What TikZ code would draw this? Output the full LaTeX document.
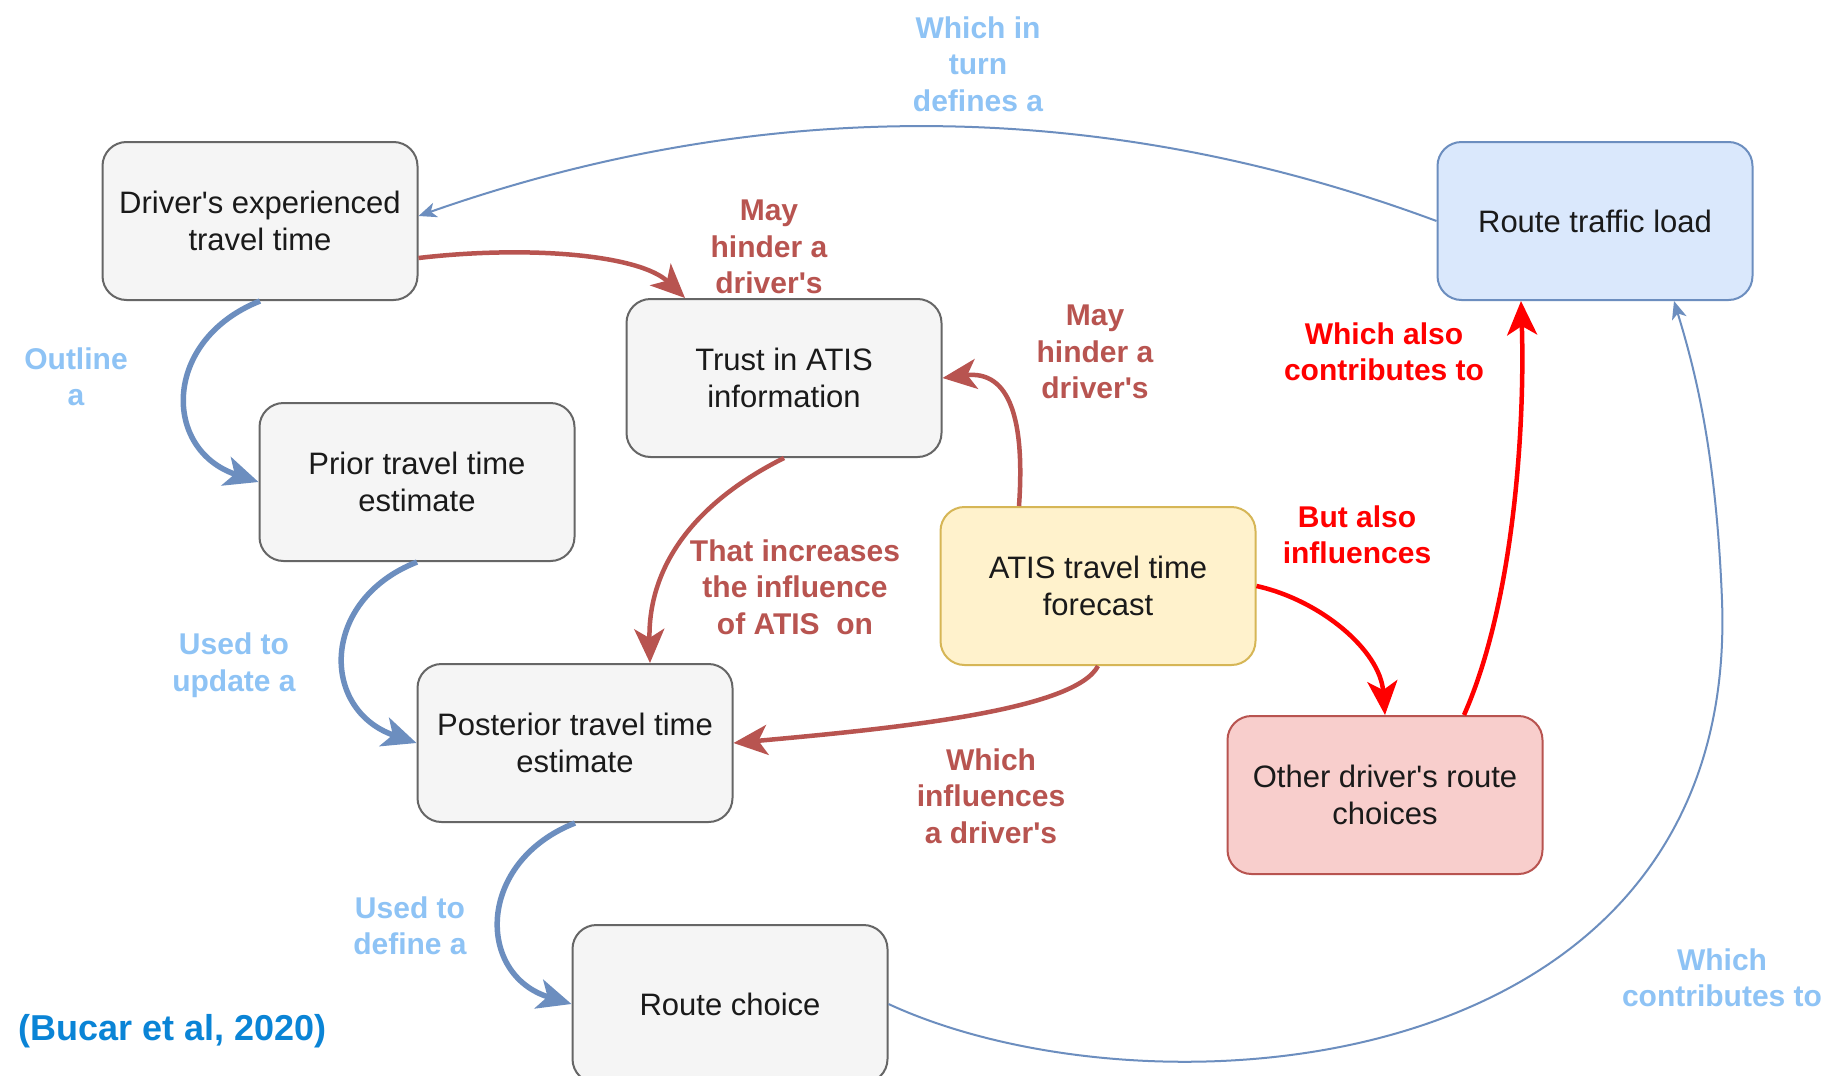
\documentclass[tikz,border=0pt]{standalone}
\usepackage{fontspec}
\setmainfont{Liberation Sans}
\newfontfamily\lsans{Liberation Sans}
\usetikzlibrary{arrows.meta}
\definecolor{gfill}{HTML}{F5F5F5}
\definecolor{gline}{HTML}{666666}
\definecolor{bfill}{HTML}{DAE8FC}
\definecolor{bline}{HTML}{6C8EBF}
\definecolor{yfill}{HTML}{FFF2CC}
\definecolor{yline}{HTML}{D6B656}
\definecolor{rfill}{HTML}{F8CECC}
\definecolor{rline}{HTML}{B85450}
\definecolor{brred}{HTML}{FF0000}
\definecolor{lblue}{HTML}{8EC3F5}
\definecolor{citeblue}{HTML}{0A84D6}
\definecolor{txt}{HTML}{1A1A1A}
\begin{document}
\begin{tikzpicture}[x=1pt,y=-1pt,
  box/.style={draw, rounded corners=24pt, line width=2pt, minimum width=315pt,
    minimum height=158pt, align=center, text=txt, inner sep=4pt,
    font=\lsans\fontsize{31}{37}\selectfont},
  gbox/.style={box, draw=gline, fill=gfill},
  bbox/.style={box, draw=bline, fill=bfill},
  ybox/.style={box, draw=yline, fill=yfill},
  rbox/.style={box, draw=rline, fill=rfill},
  lbl/.style={align=center, inner sep=0pt, font=\lsans\bfseries\fontsize{30}{36.5}\selectfont},
  bluelbl/.style={lbl, text=lblue},
  redlbl/.style={lbl, text=rline},
  brlbl/.style={lbl, text=brred},
  thickblue/.style={draw=bline, line width=5.5pt, -{Stealth[length=34pt,width=30pt,inset=9pt]}},
  thickred/.style={draw=rline, line width=4.5pt, -{Stealth[length=34pt,width=30pt,inset=9pt]}},
  brightred/.style={draw=brred, line width=4.5pt, -{Stealth[length=34pt,width=30pt,inset=9pt]}},
  thinblue/.style={draw=bline, line width=2pt, -{Stealth[length=18pt,width=15pt,inset=5pt]}}
]
\useasboundingbox (0,0) rectangle (1837,1076);
\fill[white] (0,0) rectangle (1837,1076);

% nodes
\node[gbox] (drv) at (260,221) {Driver's experienced\\travel time};
\node[gbox] (trust) at (784,378) {Trust in ATIS\\information};
\node[gbox] (prior) at (417,482) {Prior travel time\\estimate};
\node[gbox] (post) at (575,743) {Posterior travel time\\estimate};
\node[gbox] (route) at (730,1004) {Route choice};
\node[ybox] (atis) at (1098,586) {ATIS travel time\\forecast};
\node[rbox] (other) at (1385,795) {Other driver's route\\choices};
\node[bbox] (rtl) at (1595,221) {Route traffic load};

% blue thick connectors
\draw[thickblue] (drv.south) .. controls (162,340) and (162,450) .. (prior.west);
\draw[thickblue] (prior.south) .. controls (320,600) and (320,710) .. (post.west);
\draw[thickblue] (post.south) .. controls (476,862) and (476,975) .. (route.west);

% dark red connectors
\draw[thickred] ([yshift=-37pt]drv.east) .. controls (530,245) and (640,255) .. ([xshift=-99pt]trust.north);
\draw[thickred] (trust.south) .. controls (690,505) and (648,570) .. ([xshift=75pt]post.north);
\draw[thickred] ([xshift=-79pt]atis.north) .. controls (1025,420) and (1010,370) .. (trust.east);
\draw[thickred] (atis.south) .. controls (1075,710) and (900,728) .. (post.east);

% bright red connectors
\draw[brightred] (atis.east) .. controls (1320,600) and (1380,650) .. (other.north);
\draw[brightred] ([xshift=79pt]other.north) .. controls (1515,600) and (1525,420) .. ([xshift=-74pt]rtl.south);

% thin blue connectors
\draw[thinblue] (rtl.west) .. controls (1100,96) and (760,96) .. ([yshift=5pt]drv.east);
\coordinate (turn) at (1722,600);
\draw[thinblue] (route.east) .. controls (1150,1125) and (1740,1085) .. (turn)
  .. controls (1716,450) and (1695,370) .. ([xshift=79pt]rtl.south);

% labels
\node[bluelbl] (l1) at (978,64) {Which in\\turn\\defines a};
\node[bluelbl] (l2) at (76,377) {Outline\\a};
\node[bluelbl] (l3) at (234,665) {Used to\\update a};
\node[bluelbl] (l4) at (410,926) {Used to\\define a};
\node[bluelbl] (l5) at (1722,978) {Which\\contributes to};
\node[redlbl] (l6) at (769,247) {May\\hinder a\\driver's};
\node[redlbl] (l7) at (1095,352) {May\\hinder a\\driver's};
\node[redlbl] (l8) at (795,587) {That increases\\the influence\\of ATIS\ \ on};
\node[redlbl] (l9) at (991,796) {Which\\influences\\a driver's};
\node[brlbl] (l10) at (1384,352) {Which also\\contributes to};
\node[brlbl] (l11) at (1357,535) {But also\\influences};

\node[anchor=west, inner sep=0pt, text=citeblue, font=\lsans\bfseries\fontsize{36}{40}\selectfont] (cite) at (18,1031) {(Bucar et al, 2020)};
\end{tikzpicture}
\end{document}
